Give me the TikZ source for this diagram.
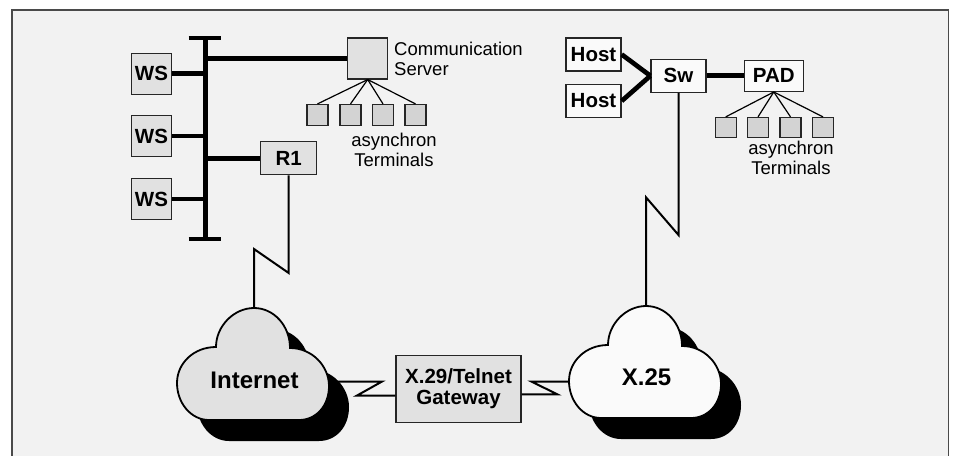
\documentclass[tikz,border=0pt]{standalone}
\usepackage{fontspec}
\setmainfont{Liberation Sans}
\definecolor{bg}{HTML}{F2F2F2}
\definecolor{boxgray}{HTML}{E1E1E1}
\definecolor{termgray}{HTML}{D3D3D3}
\definecolor{boxwhite}{HTML}{FAFAFA}
\definecolor{framegray}{HTML}{4A4A4A}
\tikzset{
  box/.style={draw=black!85, line width=1.3pt, inner sep=0pt,
    font=\fontsize{20.5}{21}\selectfont\bfseries, align=center},
  graybox/.style={box, fill=boxgray},
  whitebox/.style={box, fill=boxwhite},
  term/.style={draw=black!85, line width=1.2pt, fill=termgray,
    minimum width=21pt, minimum height=21pt, inner sep=0pt},
  lan/.style={line width=4.7pt},
  busline/.style={line width=5pt},
  busend/.style={line width=4pt},
  wan/.style={line width=2pt, line join=miter},
  tap/.style={line width=1.2pt},
  lbl/.style={font=\fontsize{18.5}{19.5}\selectfont, inner sep=0pt},
  cloudlbl/.style={font=\fontsize{24}{26}\selectfont\bfseries, inner sep=0pt},
  pics/cloudshape/.style={code={
    \path[pic actions] (-38,39) .. controls (-38,18) and (-20,0) .. (0,0)
      .. controls (20,0) and (36,18) .. (36,40)
      .. controls (58,40) and (75,58) .. (75,78)
      .. controls (75,98) and (62,112) .. (45,112) -- (-45,112)
      .. controls (-63,112) and (-77,95) .. (-77,75)
      .. controls (-77,55) and (-60,39) .. (-38,39) -- cycle;
  }},
}
\begin{document}
\begin{tikzpicture}[x=1pt, y=-1pt]
\useasboundingbox (0,0) rectangle (955,455);
\clip (0,0) rectangle (955,455);
\fill[white] (0,0) rectangle (955,455);
% outer frame, open at the bottom edge
\draw[framegray, line width=1.5pt, fill=bg] (12,10) rectangle (948.5,470);

% ---------- LAN with workstations ----------
\coordinate (bustop) at (205,37.7);
\coordinate (busbot) at (205,239);
\draw[busline] (bustop) -- (busbot);
\draw[busend] ([xshift=-16.4pt]bustop) -- ([xshift=16.4pt]bustop);
\draw[busend] ([xshift=-16.4pt]busbot) -- ([xshift=16.4pt]busbot);

\foreach \n/\y in {1/73.8, 2/136, 3/199}{
  \node[graybox, minimum width=40pt, minimum height=41pt] (ws\n) at (151.5,\y) {WS};
  \draw[lan] (ws\n.east) -- (ws\n.east -| bustop);
}

% communication server with its terminals
\node[graybox, minimum width=40pt, minimum height=41pt] (cs) at (367.7,58.4) {};
\draw[lan] (bustop |- cs.west) -- (cs.west);
\node[lbl, anchor=north west, align=left] (cstext) at (394,42) {Communication\\Server};
\foreach \n/\x in {1/317.5, 2/350.5, 3/383, 4/415.5}{
  \node[term] (lt\n) at (\x,115) {};
  \draw[tap] (cs.south) -- (lt\n.north);
}
\node[lbl, anchor=north, align=center] (ltext) at (394,133) {asynchron\\Terminals};

% router
\node[graybox, minimum width=56pt, minimum height=33pt] (r1) at (288.7,158.3) {R1};
\draw[lan] (bustop |- r1.west) -- (r1.west);

% ---------- X.25 side ----------
\node[whitebox, minimum width=55pt, minimum height=33pt] (host1) at (593.5,54.4) {Host};
\node[whitebox, minimum width=55pt, minimum height=33pt] (host2) at (593.5,101) {Host};
\node[whitebox, minimum width=55pt, minimum height=33pt] (sw) at (678.5,75.8) {Sw};
\node[whitebox, minimum width=59pt, minimum height=31pt] (pad) at (773.8,75.8) {PAD};
\draw[lan] (host1.east) -- (sw.west);
\draw[lan] (host2.east) -- (sw.west);
\draw[lan] (sw.east) -- (pad.west);
\foreach \n/\x in {1/725.7, 2/758, 3/790.5, 4/823}{
  \node[term, minimum height=20pt] (rt\n) at (\x,127.5) {};
  \draw[tap] (pad.south) -- (rt\n.north);
}
\node[lbl, anchor=north, align=center] (rtext) at (791,141) {asynchron\\Terminals};

% ---------- clouds and WAN links ----------
\coordinate (inet) at (254,308);
\coordinate (inetE) at (329,381.7);
\coordinate (x25) at (646,306);
\coordinate (x25W) at (568,381.7);

\node[graybox, minimum width=125pt, minimum height=67pt] (gw) at (458.5,388.7) {X.29/Telnet\\Gateway};

\coordinate (r1bend) at (288.7,273);
\coordinate (inetbend) at (254,249);
\draw[wan] (r1.south) -- (r1bend) -- (inetbend) -- (inet);

\coordinate (swbend) at (678.5,235);
\coordinate (x25bend) at (646,197.3);
\draw[wan] (sw.south) -- (swbend) -- (x25bend) -- (x25);

\coordinate (gl1) at (381.7,381.7);
\coordinate (gl2) at (356.7,395.7);
\draw[wan] (inetE) -- (gl1) -- (gl2) -- (gl2 -| gw.west);
\coordinate (gr1) at (557.3,394.3);
\coordinate (gr2) at (531.7,381.7);
\draw[wan] (gw.east |- gr1) -- (gr1) -- (gr2) -- (x25W);

% shadows, then the clouds themselves
\pic[fill=black] at (274,329) {cloudshape};
\pic[draw=black, line width=1.8pt, fill=boxgray] at (inet) {cloudshape};
\node[cloudlbl] (inetlbl) at (254.5,380) {Internet};

\pic[fill=black] at (666,327) {cloudshape};
\pic[draw=black, line width=1.8pt, fill=boxwhite] at (x25) {cloudshape};
\node[cloudlbl] (x25lbl) at (646.5,377.5) {X.25};
\end{tikzpicture}
\end{document}
